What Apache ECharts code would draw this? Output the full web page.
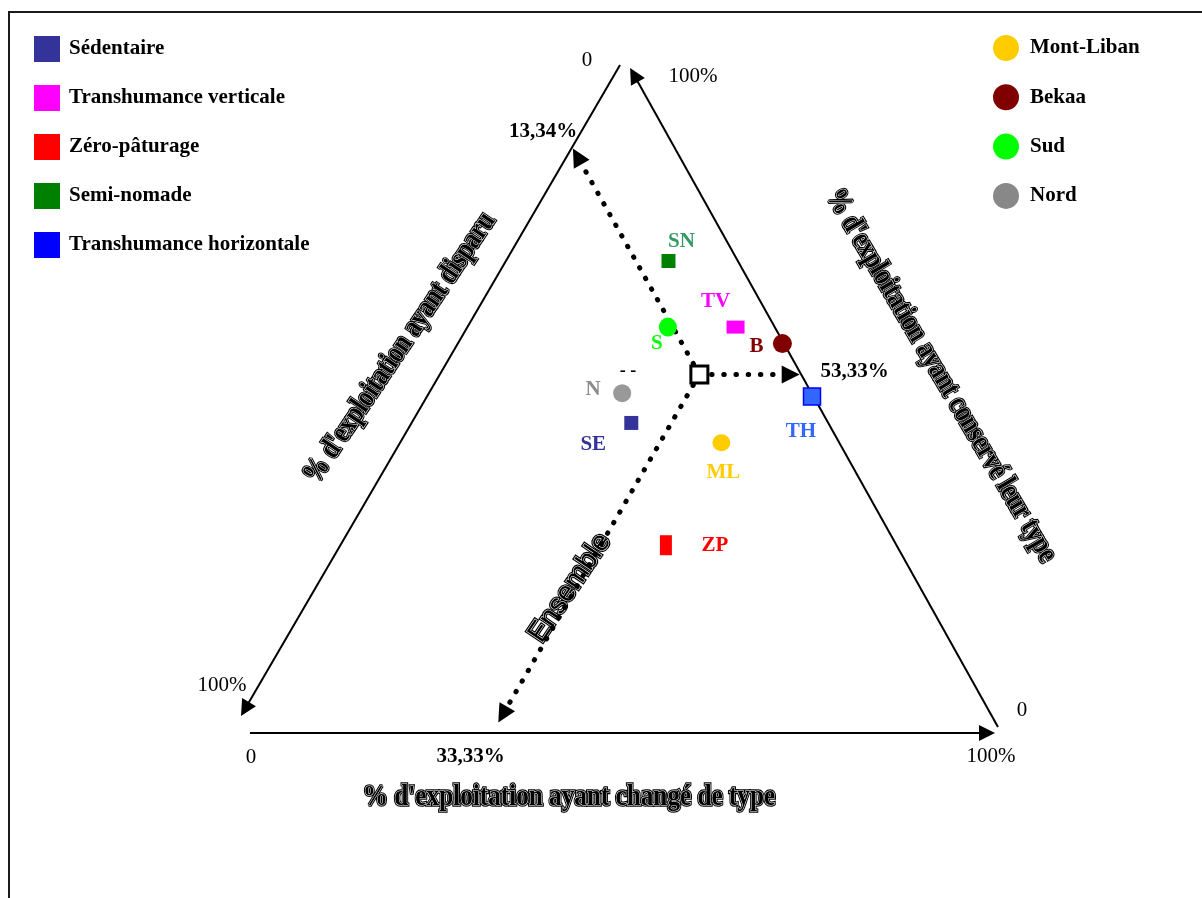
<!DOCTYPE html>
<html><head><meta charset="utf-8">
<script src="https://cdn.jsdelivr.net/npm/echarts@6/dist/echarts.min.js"></script>
<style>html,body{margin:0;padding:0;background:#fff}#c{width:1202px;height:898px}</style>
</head><body><div id="c"></div>
<script>
// ---------------- data (percentages: changed / disappeared / kept) ----------------
const typeNames = ['Sédentaire', 'Transhumance verticale', 'Zéro-pâturage', 'Semi-nomade', 'Transhumance horizontale'];
const typeCodes = ['SE', 'TV', 'ZP', 'SN', 'TH'];
const typeChanged = [28, 34.5, 42, 20.5, 50];
const typeDisappeared = [26, 5, 30.5, 9, 0];
const typeKept = [46, 60.5, 27.5, 70.5, 50];

const regionNames = ['Mont-Liban', 'Bekaa', 'Sud', 'Nord'];
const regionCodes = ['ML', 'B', 'S', 'N'];
const regionChanged = [41.5, 42, 25.5, 24.5];
const regionDisappeared = [15.5, 0, 14, 25];
const regionKept = [43, 58, 60.5, 50.5];

const overallName = 'Ensemble';
const overallChanged = 33.33;
const overallDisappeared = 13.34;
const overallKept = 53.33;

const axisTitles = ["% d'exploitation ayant changé de type", "% d'exploitation ayant disparu", "% d'exploitation ayant conservé leur type"];
const cornerTickLabels = ['0', '100%'];

// ---------------- layout / style ----------------
const APEX_X = 0.508; // horizontal position of the top vertex in plot units
function tern(a, b, c) { const s = a + b + c; return [a / s + APEX_X * c / s, c / s]; }
function pct(v) { return v.toFixed(2).replace('.', ',') + '%'; }

const serif = '"Liberation Serif", "Times New Roman", serif';
const sans = '"Liberation Sans", Arial, sans-serif';

const markerStyle = {
  SE: { symbol: 'rect', size: [14, 14], color: '#333399', labelColor: '#333399', offset: [-38, 22] },
  TV: { symbol: 'rect', size: [18, 13], color: '#FF00FF', labelColor: '#FF00FF', offset: [-20, -26] },
  ZP: { symbol: 'rect', size: [12, 20], color: '#FF0000', labelColor: '#FF0000', offset: [49, 0] },
  SN: { symbol: 'rect', size: [14, 14], color: '#008000', labelColor: '#339966', offset: [13, -19] },
  TH: { symbol: 'rect', size: [17, 17], color: '#3366FF', border: '#0000FF', labelColor: '#3366FF', offset: [-11, 35] },
  ML: { symbol: 'circle', size: [18, 17], color: '#FFCC00', labelColor: '#FFCC00', offset: [2, 30] },
  B: { symbol: 'circle', size: [19, 19], color: '#800000', labelColor: '#800000', offset: [-26, 3] },
  S: { symbol: 'circle', size: [18, 19], color: '#00FF00', labelColor: '#00FF00', offset: [-11, 16] },
  N: { symbol: 'circle', size: [18, 18], color: '#999999', labelColor: '#8C8C8C', offset: [-29, -4] }
};
const legendIconColor = { 'Transhumance horizontale': '#0000FF', 'Nord': '#888888' };

// triangle frame arrows (plot units, layout only)
const EDGES = [
  { coords: [[0.4987, 1.0015], [0, 0.0272]] },
  { coords: [[1.0013, 0], [0.5173, 0.9864]] },
  { coords: [[0.0066, -0.0091], [0.9867, -0.0091]] }
];
const ARROW_REACH = [0.99, 0.91, 0.965];

function pointSeries(name, code, a, b, c) {
  const st = markerStyle[code];
  return {
    type: 'scatter', name: name, z: 5,
    symbol: st.symbol, symbolSize: st.size,
    itemStyle: { color: st.color, borderColor: st.border || st.color, borderWidth: st.border ? 1.5 : 0, opacity: 1 },
    label: {
      show: true, position: ['50%', '50%'], align: 'center', verticalAlign: 'middle',
      offset: st.offset, formatter: code, color: st.labelColor,
      fontFamily: serif, fontWeight: 'bold', fontSize: 21
    },
    emphasis: { disabled: true },
    data: [tern(a, b, c)]
  };
}

const series = [];
series.push({
  type: 'lines', coordinateSystem: 'cartesian2d', z: 1, clip: false, silent: true,
  symbol: ['none', 'triangle'], symbolSize: 16,
  lineStyle: { color: '#000', width: 2, opacity: 1, curveness: 0 },
  data: EDGES
});

const E = tern(overallChanged, overallDisappeared, overallKept);
const projL = tern(0, overallDisappeared, 100 - overallDisappeared);
const projR = tern(100 - overallKept, 0, overallKept);
const projB = tern(overallChanged, 100 - overallChanged, 0);
const projs = [projL, projR, projB];
series.push({
  type: 'lines', coordinateSystem: 'cartesian2d', z: 2, clip: false, silent: true,
  symbol: ['none', 'triangle'], symbolSize: 18,
  lineStyle: { color: '#000', width: 5, opacity: 1, type: [0.5, 11.7], cap: 'round' },
  data: projs.map((p, i) => ({ coords: [E, [E[0] + (p[0] - E[0]) * ARROW_REACH[i], E[1] + (p[1] - E[1]) * ARROW_REACH[i]]] }))
});

typeNames.forEach((n, i) => series.push(pointSeries(n, typeCodes[i], typeChanged[i], typeDisappeared[i], typeKept[i])));
regionNames.forEach((n, i) => series.push(pointSeries(n, regionCodes[i], regionChanged[i], regionDisappeared[i], regionKept[i])));

series.push({
  type: 'scatter', name: overallName, z: 6, symbol: 'rect', symbolSize: 17,
  itemStyle: { color: '#fff', borderColor: '#000', borderWidth: 3, opacity: 1 },
  emphasis: { disabled: true },
  data: [E]
});

// value annotations at the arrow ends
const annoOffsets = [[-33, -23], [55, -2.5], [-25, 30]];
const annoTexts = [pct(overallDisappeared), pct(overallKept), pct(overallChanged)];
series.push({
  type: 'scatter', z: 7, symbolSize: 0, silent: true,
  itemStyle: { opacity: 1 },
  data: projs.map((p, i) => ({
    value: p,
    label: { show: true, formatter: annoTexts[i], offset: annoOffsets[i] }
  })),
  label: { position: ['50%', '50%'], align: 'center', verticalAlign: 'middle', color: '#000', fontFamily: serif, fontWeight: 'bold', fontSize: 21 }
});

// corner tick labels
const TOP = tern(0, 0, 100), BL = tern(0, 100, 0), BR = tern(100, 0, 0);
const cornerPts = [
  { p: TOP, t: cornerTickLabels[0], o: [-40, -6] },
  { p: TOP, t: cornerTickLabels[1], o: [66, 10] },
  { p: BL, t: cornerTickLabels[1], o: [-23, -42] },
  { p: BL, t: cornerTickLabels[0], o: [6, 30] },
  { p: BR, t: cornerTickLabels[1], o: [-6, 29] },
  { p: BR, t: cornerTickLabels[0], o: [25, -17] }
];
series.push({
  type: 'scatter', z: 7, symbolSize: 0, silent: true,
  itemStyle: { opacity: 1 },
  data: cornerPts.map(c => ({ value: c.p, label: { show: true, formatter: c.t, offset: c.o } })),
  label: { position: ['50%', '50%'], align: 'center', verticalAlign: 'middle', color: '#000', fontFamily: serif, fontSize: 21 }
});

function outlined(text, x, y, rotDeg, font, sx) {
  return {
    type: 'group', x: x, y: y, rotation: rotDeg * Math.PI / 180, scaleX: sx, silent: true,
    children: [
      { type: 'text', style: { text: text, x: 0, y: 0, font: font, fill: '#000', stroke: '#000', lineWidth: 3.5, align: 'center', verticalAlign: 'middle', textAlign: 'center', textVerticalAlign: 'middle' } },
      { type: 'text', style: { text: text, x: 0, y: 0, font: font, fill: '#000', stroke: '#fff', lineWidth: 1.1, align: 'center', verticalAlign: 'middle', textAlign: 'center', textVerticalAlign: 'middle' } }
    ]
  };
}

const titleFont = 'bold 30px ' + serif;
const graphic = [
  { type: 'rect', shape: { x: 9, y: 12, width: 1400, height: 1000 }, style: { fill: 'none', stroke: '#1a1a1a', lineWidth: 2 }, silent: true, z: 0 },
  outlined(axisTitles[0], 569, 797, 0, titleFont, 0.84),
  outlined(axisTitles[1], 400, 348, 56, titleFont, 0.8),
  outlined(axisTitles[2], 941, 376, -59.5, titleFont, 0.8),
  outlined(overallName, 570, 588, 56, '28px ' + sans, 1),
  { type: 'text', x: 628, y: 371, silent: true, style: { text: '- -', font: 'bold 18px ' + serif, fill: '#000', align: 'center', verticalAlign: 'middle', textAlign: 'center', textVerticalAlign: 'middle' } }
];

const legendText = { color: '#000', fontFamily: serif, fontWeight: 'bold', fontSize: 21 };
const option = {
  animation: false,
  backgroundColor: '#fff',
  grid: { left: 245, top: 66, width: 752, height: 661, containLabel: false },
  xAxis: { type: 'value', min: 0, max: 1, show: false },
  yAxis: { type: 'value', min: 0, max: 1, show: false },
  legend: [
    {
      orient: 'vertical', left: 34, top: 36, padding: 0, icon: 'rect', itemWidth: 26, itemHeight: 26, itemGap: 23,
      selectedMode: false, itemStyle: { borderWidth: 0 },
      textStyle: Object.assign({ padding: [0, 0, 0, 4] }, legendText),
      data: typeNames.map(n => ({ name: n, itemStyle: legendIconColor[n] ? { color: legendIconColor[n], borderWidth: 0 } : { borderWidth: 0 } }))
    },
    {
      orient: 'vertical', left: 993, top: 35, padding: 0, icon: 'circle', itemWidth: 26, itemHeight: 26, itemGap: 23.3,
      selectedMode: false, itemStyle: { borderWidth: 0 },
      textStyle: Object.assign({ padding: [0, 0, 0, 6] }, legendText),
      data: regionNames.map(n => ({ name: n, itemStyle: legendIconColor[n] ? { color: legendIconColor[n], borderWidth: 0 } : { borderWidth: 0 } }))
    }
  ],
  graphic: graphic,
  series: series
};

const chart = echarts.init(document.getElementById('c'), null, { renderer: 'canvas' });
chart.setOption(option);
</script>
</body></html>
